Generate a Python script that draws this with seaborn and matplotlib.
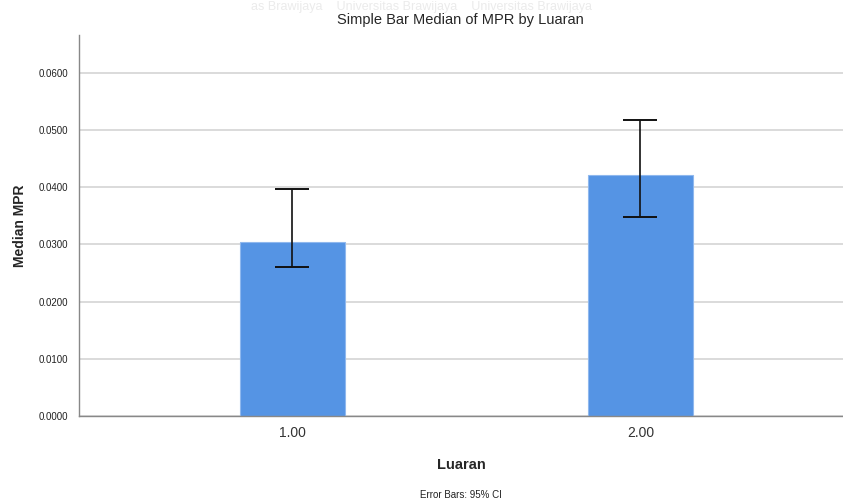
import matplotlib
matplotlib.use("Agg")
import matplotlib.pyplot as plt
import seaborn as sns
import numpy as np
import pandas as pd

categories = ["1.00", "2.00"]
median_mpr = [0.0305, 0.0421]
ci_lower = [0.0261, 0.0348]
ci_upper = [0.0397, 0.0517]
y_ticks = [0.0, 0.01, 0.02, 0.03, 0.04, 0.05, 0.06]

sns.set_theme(style="white")
plt.rcParams['font.family'] = ['Liberation Sans', 'DejaVu Sans']

fig = plt.figure(figsize=(8.43, 5.01), dpi=100)
ax = fig.add_axes([79/843, 1 - 416/501, 1 - 79/843, (416 - 35)/501])

df = pd.DataFrame({"Luaran": categories, "MPR": median_mpr})
sns.barplot(data=df, x="Luaran", y="MPR", ax=ax, color="#5594e4",
            width=0.30, saturation=1, edgecolor="#8fb8ee", linewidth=0.8,
            errorbar=None, zorder=2)

xs = np.arange(len(categories))
med = np.array(median_mpr)
yerr = np.vstack([med - np.array(ci_lower), np.array(ci_upper) - med])
ax.errorbar(xs, med, yerr=yerr, fmt="none", ecolor="#111111",
            elinewidth=1.2, capsize=12.5, capthick=1.4, zorder=3)

ax.set_xlim(-0.6135, 1.582)
ax.set_ylim(0, 0.0666)
ax.set_yticks(y_ticks)
ax.set_yticklabels([f"{v:.4f}" for v in y_ticks], fontsize=7, color="#222222")
ax.tick_params(axis="x", labelsize=10, colors="#333333", length=0, pad=7)
ax.tick_params(axis="y", length=0, pad=8)
ax.yaxis.grid(True, color="#d4d4d4", linewidth=1.2, zorder=0)
ax.set_axisbelow(True)
for s in ["top", "right"]:
    ax.spines[s].set_visible(False)
for s in ["left", "bottom"]:
    ax.spines[s].set_color("#888888")
    ax.spines[s].set_linewidth(1.0)

ax.set_ylabel("Median MPR", fontsize=10, fontweight="bold", labelpad=8)
ax.set_xlabel("Luaran", fontsize=10.5, fontweight="bold", labelpad=13)
fig.text(0.5 + 39/843, 1 - 20/501, "Simple Bar Median of MPR by Luaran",
         ha="center", va="center", fontsize=10.5)
fig.text(0.5 + 39/843, 1 - 495/501, "Error Bars: 95% CI",
         ha="center", va="center", fontsize=7, color="#222222")
fig.text(0.5, 1.0 - 1/501, "as Brawijaya    Universitas Brawijaya    Universitas Brawijaya",
         ha="center", va="top", fontsize=9, color="#ebebeb")

fig.savefig("out.png", dpi=100)
